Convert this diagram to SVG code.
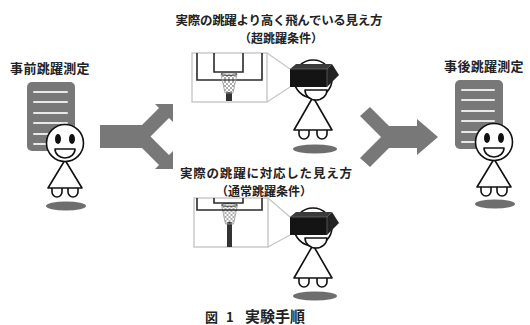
<svg xmlns="http://www.w3.org/2000/svg" xmlns:xlink="http://www.w3.org/1999/xlink" width="530" height="325" viewBox="0 0 530 325">
  <style>
    .t{font-family:"Noto Sans CJK JP","Noto Sans CJK SC",sans-serif;font-weight:bold;fill:#222;}
    .sk{fill:#fff;stroke:#111;stroke-width:1.6;stroke-linejoin:round}
    .gray{fill:#787878}
    .shadow{fill:#6e6e6e}
    .bl{stroke:#e8e8e8;stroke-width:2;stroke-linecap:round}
    .panel{fill:#fff;stroke:#bdbdbd;stroke-width:1.2}
    .bb{fill:none;stroke:#2a2a2a;stroke-width:1.6}
    .link{stroke:#c4c4c4;stroke-width:1.1;fill:none}
    .mouth{fill:#fff;stroke:#111;stroke-width:1.6;stroke-linejoin:round}
  </style>
  <defs>
    <pattern id="mesh" width="4" height="4" patternUnits="userSpaceOnUse">
      <path d="M0,0 L4,4 M4,0 L0,4" stroke="#8a8a8a" stroke-width="0.7"/>
    </pattern>
    <!-- small figure: head, dress, feet (origin = head centre) -->
    <g id="body-s">
      <path class="sk" d="M-13,45 L-13,49 A5,5 0 0 0 -3,49 L-3,45 M3,45 L3,49 A5,5 0 0 0 13,49 L13,45"/>
      <path class="sk" d="M0,17 L-17,45 L17,45 Z"/>
      <circle class="sk" r="18.5"/>
    </g>
    <g id="body-m">
      <path class="sk" d="M-14,51 L-14,55 A5,5 0 0 0 -4,55 L-4,51 M4,51 L4,55 A5,5 0 0 0 14,55 L14,51"/>
      <path class="sk" d="M0,18 L-19,51 L19,51 Z"/>
      <circle class="sk" r="19"/>
    </g>
    <g id="face">
      <ellipse cx="-7" cy="-4" rx="3" ry="5" fill="#111"/>
      <ellipse cx="7" cy="-4" rx="3" ry="5" fill="#111"/>
      <path class="mouth" d="M-10,6 L10,6 A10,9 0 0 1 -10,6 Z"/>
    </g>
    <g id="goggles">
      <polygon points="-23,-10 -17,-15 19,-15 14,-10" fill="#3a3a3a"/>
      <polygon points="14,-10 19,-15 26,-4 14,8" fill="#222"/>
      <rect x="-23" y="-10" width="37" height="18" fill="#141414"/>
      <path d="M-23,-10 L14,-10 L19,-15 M14,-10 L14,8" stroke="#777" stroke-width="0.6" fill="none"/>
    </g>
    <g id="net">
      <path d="M-8,0 L8,0 L4,19 L-4,19 Z" fill="url(#mesh)" stroke="#999" stroke-width="0.8"/>
      <ellipse rx="8" ry="1.6" fill="none" stroke="#555" stroke-width="1"/>
    </g>
  </defs>

  <rect width="530" height="325" fill="#fff"/>

  <!-- connectors: fork arrow and merge arrow -->
  <g id="connectors">
    <polygon class="gray" points="100,125 142,125 159,108 155,104 173,104 173,122 169,118 150.5,136.5 169,155 173,151 173,169 155,169 159,165 142,148 100,148"/>
    <polygon class="gray" points="370,107 389,126 417,126 417,119 438,137 417,155 417,148 389,148 370,167 360,158 381,137 360,116"/>
  </g>

  <!-- pre-jump measurement -->
  <g id="pre">
    <text class="t" x="50" y="72.5" font-size="13" text-anchor="middle" letter-spacing="0.3">事前跳躍測定</text>
    <rect class="gray" x="27" y="82" width="48" height="69" rx="5"/>
    <path class="bl" d="M34,92 H67 M34,102 H67 M34,113 H67 M34,123 H67 M34,134 H67 M34,144 H67"/>
    <ellipse class="shadow" cx="66" cy="206" rx="20" ry="4.5"/>
    <use xlink:href="#body-s" href="#body-s" transform="translate(65,143)"/>
    <use xlink:href="#face" href="#face" transform="translate(65,143)"/>
  </g>

  <!-- super-jump view -->
  <g id="super">
    <text class="t" x="279" y="25" font-size="12.5" text-anchor="middle" textLength="207" lengthAdjust="spacing">実際の跳躍より高く飛んでいる見え方</text>
    <text class="t" x="281" y="43" font-size="12" text-anchor="middle">（超跳躍条件）</text>
    <rect class="panel" x="192" y="53" width="75" height="49"/>
    <path class="bb" d="M197,53 V80 H262 V53 M214,53 V72 H243 V53"/>
    <rect x="226" y="92" width="6" height="9" fill="#333"/>
    <use xlink:href="#net" href="#net" transform="translate(229,74)"/>
    <path class="link" d="M267,53 L290,69 M267,102 L290,87"/>
    <ellipse class="shadow" cx="315" cy="149" rx="22" ry="4.5"/>
    <use xlink:href="#body-m" href="#body-m" transform="translate(313,79)"/>
    <path class="mouth" d="M-8,11 L14,11 A11,10 0 0 1 -8,11 Z" transform="translate(313,79)"/>
    <use xlink:href="#goggles" href="#goggles" transform="translate(313,79)"/>
  </g>

  <!-- normal-jump view -->
  <g id="normal">
    <text class="t" x="266" y="178" font-size="12.5" text-anchor="middle" textLength="172" lengthAdjust="spacing">実際の跳躍に対応した見え方</text>
    <text class="t" x="264" y="196" font-size="12" text-anchor="middle">（通常跳躍条件）</text>
    <rect class="panel" x="194" y="198" width="74" height="49"/>
    <rect x="227" y="222" width="5" height="25" fill="#333"/>
    <use xlink:href="#net" href="#net" transform="translate(229.5,205)"/>
    <path class="bb" d="M197,198 V210 H262 V198 M214,198 V203 H243 V198"/>
    <path class="link" d="M268,198 L290,217 M268,247 L290,235"/>
    <ellipse class="shadow" cx="315" cy="296" rx="22" ry="4.5"/>
    <use xlink:href="#body-m" href="#body-m" transform="translate(313,227)"/>
    <path class="mouth" d="M-8,11 L14,11 A11,10 0 0 1 -8,11 Z" transform="translate(313,227)"/>
    <use xlink:href="#goggles" href="#goggles" transform="translate(313,227)"/>
  </g>

  <!-- post-jump measurement -->
  <g id="post">
    <text class="t" x="484" y="71" font-size="13" text-anchor="middle" letter-spacing="0.3">事後跳躍測定</text>
    <rect class="gray" x="455" y="80" width="48" height="69" rx="5"/>
    <path class="bl" d="M462,90 H494 M462,100 H494 M462,111 H494 M462,121 H494 M462,132 H494 M462,142 H494"/>
    <ellipse class="shadow" cx="495" cy="204" rx="20" ry="4.5"/>
    <use xlink:href="#body-s" href="#body-s" transform="translate(494,142)"/>
    <use xlink:href="#face" href="#face" transform="translate(494,142)"/>
  </g>

  <!-- caption -->
  <g id="caption">
    <text class="t" y="322" font-size="13"><tspan x="205">図</tspan><tspan x="226">1</tspan><tspan x="245" font-size="15">実験手順</tspan></text>
  </g>
</svg>
